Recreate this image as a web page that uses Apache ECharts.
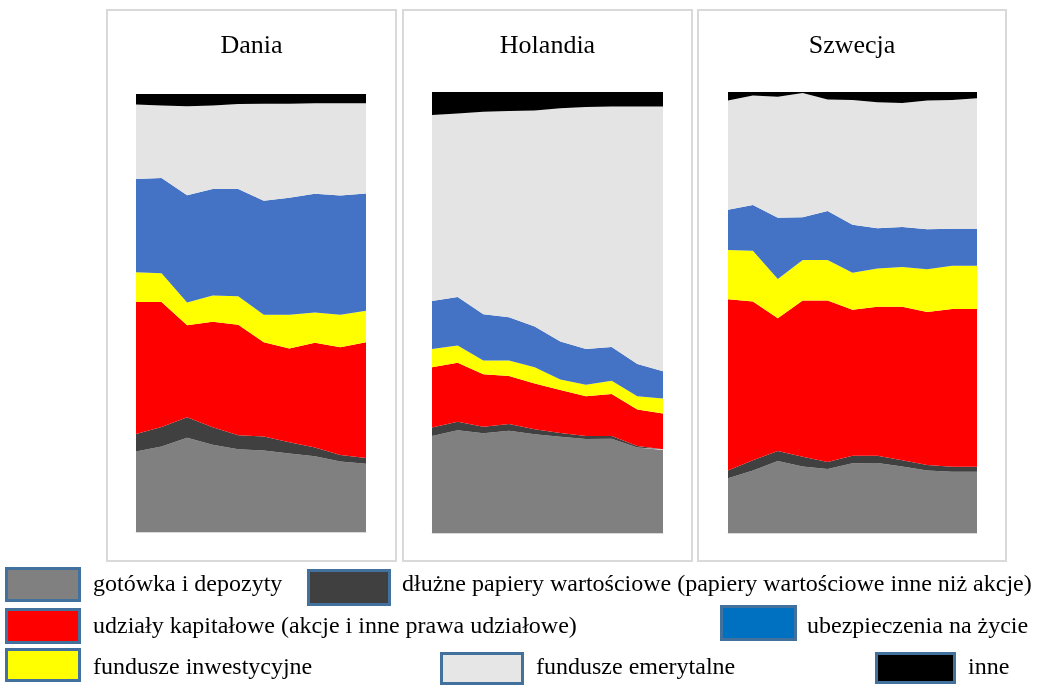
<!DOCTYPE html>
<html>
<head>
<meta charset="utf-8">
<script src="https://cdn.jsdelivr.net/npm/echarts@6/dist/echarts.min.js"></script>
<style>
  html, body { margin: 0; padding: 0; background: #ffffff; }
  #chart { width: 1038px; height: 685px; }
</style>
</head>
<body>
<div id="chart"></div>
<script>
// Struktura aktywów finansowych gospodarstw domowych (% ogółu)
const yearsDK = ['2004','2005','2006','2007','2008','2009','2010','2011','2012','2013'];
const yearsNL = ['2004','2005','2006','2007','2008','2009','2010','2011','2012','2013'];
const yearsSE = ['2003','2004','2005','2006','2007','2008','2009','2010','2011','2012','2013'];

const panelTitles = ['Dania', 'Holandia', 'Szwecja'];

const seriesNames = [
  'gotówka i depozyty',
  'dłużne papiery wartościowe (papiery wartościowe inne niż akcje)',
  'udziały kapitałowe (akcje i inne prawa udziałowe)',
  'fundusze inwestycyjne',
  'ubezpieczenia na życie',
  'fundusze emerytalne',
  'inne'
];

// Dania
const dkGotowka      = [18.4, 19.5, 21.5, 19.9, 18.9, 18.6, 17.9, 17.3, 16.1, 15.6];
const dkDluzne       = [ 4.0,  4.5,  4.7,  4.0,  3.2,  3.2,  2.6,  2.0,  1.5,  1.3];
const dkUdzialy      = [30.1, 28.5, 21.0, 24.1, 25.2, 21.5, 21.4, 23.9, 24.6, 26.4];
const dkInwestycyjne = [ 6.8,  6.6,  5.2,  6.0,  6.5,  6.3,  7.7,  6.9,  7.4,  7.2];
const dkUbezpieczenia= [21.3, 21.7, 24.5, 24.3, 24.5, 26.0, 26.7, 27.1, 27.2, 26.8];
const dkEmerytalne   = [17.0, 16.6, 20.3, 19.1, 19.4, 22.2, 21.5, 20.7, 21.1, 20.6];
const dkInne         = [ 2.4,  2.6,  2.8,  2.6,  2.3,  2.2,  2.2,  2.1,  2.1,  2.1];

// Holandia
const nlGotowka      = [22.0, 23.3, 22.6, 23.2, 22.4, 21.8, 21.3, 21.4, 19.4, 18.8];
const nlDluzne       = [ 1.9,  1.9,  1.5,  1.5,  1.1,  0.9,  0.7,  0.6,  0.3,  0.2];
const nlUdzialy      = [13.7, 13.4, 11.9, 10.9, 10.4,  9.7,  9.0,  9.5,  8.3,  8.1];
const nlInwestycyjne = [ 4.1,  3.9,  3.1,  3.5,  3.7,  2.4,  2.6,  3.0,  3.0,  3.4];
const nlUbezpieczenia= [10.9, 11.0, 10.5,  9.8,  9.2,  8.6,  8.1,  7.7,  7.3,  6.2];
const nlEmerytalne   = [42.2, 41.6, 45.9, 46.8, 49.0, 52.9, 54.9, 54.5, 58.4, 60.0];
const nlInne         = [ 5.2,  4.9,  4.5,  4.3,  4.2,  3.7,  3.4,  3.3,  3.3,  3.3];

// Szwecja
const seGotowka      = [12.4, 14.2, 16.3, 15.1, 14.5, 15.8, 15.9, 15.1, 14.2, 13.9, 13.9];
const seDluzne       = [ 1.8,  2.3,  2.3,  2.2,  1.6,  1.7,  1.6,  1.4,  1.2,  1.1,  1.1];
const seUdzialy      = [38.8, 36.0, 30.1, 35.4, 36.6, 33.1, 33.8, 34.8, 34.7, 35.8, 35.8];
const seInwestycyjne = [11.2, 11.5,  8.9,  9.2,  9.2,  8.4,  8.7,  9.0,  9.7,  9.8,  9.8];
const seUbezpieczenia= [ 9.1, 10.4, 13.9,  9.7, 11.1, 10.9,  9.1,  9.1,  9.1,  8.4,  8.4];
const seEmerytalne   = [24.8, 24.8, 27.4, 28.2, 25.3, 28.3, 28.6, 28.1, 29.2, 29.2, 29.6];
const seInne         = [ 1.9,  0.8,  1.1,  0.2,  1.7,  1.8,  2.3,  2.5,  1.9,  1.8,  1.4];

const areaColors = ['#808080', '#404040', '#ff0000', '#ffff00', '#4472c4', '#e4e4e4', '#000000'];
const swatchColors = ['#808080', '#404040', '#ff0000', '#ffff00', '#0070c0', '#e6e6e6', '#000000'];

const panels = [
  { years: yearsDK, data: [dkGotowka, dkDluzne, dkUdzialy, dkInwestycyjne, dkUbezpieczenia, dkEmerytalne, dkInne],
    grid: { left: 136, top: 94, width: 230, height: 438 }, box: [107, 10, 289, 551] },
  { years: yearsNL, data: [nlGotowka, nlDluzne, nlUdzialy, nlInwestycyjne, nlUbezpieczenia, nlEmerytalne, nlInne],
    grid: { left: 432, top: 92, width: 231, height: 441 }, box: [403, 10, 289, 551] },
  { years: yearsSE, data: [seGotowka, seDluzne, seUdzialy, seInwestycyjne, seUbezpieczenia, seEmerytalne, seInne],
    grid: { left: 728, top: 92, width: 249, height: 441 }, box: [698, 10, 308, 551] }
];

const FONT = '"Liberation Serif", "Times New Roman", "DejaVu Serif", serif';

const grids = [], xAxes = [], yAxes = [], series = [], graphics = [];

panels.forEach((p, i) => {
  // panel frame
  graphics.push({
    type: 'rect', z: 0, silent: true,
    shape: { x: p.box[0], y: p.box[1], width: p.box[2], height: p.box[3] },
    style: { fill: '#ffffff', stroke: '#d9d9d9', lineWidth: 2 }
  });
  // panel title
  graphics.push({
    type: 'text', z: 5, silent: true,
    x: p.box[0] + p.box[2] / 2, y: 46,
    style: { text: panelTitles[i], fill: '#000000', font: '26px ' + FONT,
             textAlign: 'center', textVerticalAlign: 'middle' }
  });

  grids.push(Object.assign({ containLabel: false }, p.grid));
  xAxes.push({
    type: 'category', gridIndex: i, data: p.years, boundaryGap: false,
    axisLabel: { show: false }, axisTick: { show: false },
    axisLine: { show: true, lineStyle: { color: '#d9d9d9', width: 1 } },
    splitLine: { show: false }
  });
  yAxes.push({
    type: 'value', gridIndex: i, min: 0, max: 100, interval: 20,
    axisLabel: { show: false }, axisTick: { show: false },
    axisLine: { show: false }, splitLine: { show: false }
  });
  p.data.forEach((values, k) => {
    series.push({
      name: seriesNames[k], type: 'line', xAxisIndex: i, yAxisIndex: i,
      stack: 'panel' + i, data: values, symbol: 'none', smooth: false,
      lineStyle: { width: 0 }, areaStyle: { color: areaColors[k], opacity: 1 },
      itemStyle: { color: areaColors[k] }, emphasis: { disabled: true },
      animation: false
    });
  });
});

// legend (arranged in three rows under the panels)
const legendItems = [
  { k: 0, rect: [5, 567, 76, 35],   tx: 93,  ty: 585 },
  { k: 1, rect: [307, 569, 84, 37], tx: 402, ty: 585 },
  { k: 2, rect: [5, 608, 76, 36],   tx: 93,  ty: 627 },
  { k: 4, rect: [720, 605, 77, 36], tx: 807, ty: 627 },
  { k: 3, rect: [5, 648, 76, 34],   tx: 93,  ty: 668 },
  { k: 5, rect: [440, 652, 84, 33], tx: 536, ty: 668 },
  { k: 6, rect: [875, 652, 81, 32], tx: 968, ty: 668 }
];
legendItems.forEach(it => {
  graphics.push({
    type: 'rect', z: 5, silent: true,
    shape: { x: it.rect[0] + 1.5, y: it.rect[1] + 1.5, width: it.rect[2] - 3, height: it.rect[3] - 3 },
    style: { fill: swatchColors[it.k], stroke: '#41719c', lineWidth: 3 }
  });
  graphics.push({
    type: 'text', z: 5, silent: true, x: it.tx, y: it.ty,
    style: { text: seriesNames[it.k], fill: '#000000', font: '24px ' + FONT,
             textAlign: 'left', textVerticalAlign: 'middle' }
  });
});

const chart = echarts.init(document.getElementById('chart'), null, { renderer: 'canvas' });
chart.setOption({
  backgroundColor: '#ffffff',
  animation: false,
  grid: grids,
  xAxis: xAxes,
  yAxis: yAxes,
  series: series,
  graphic: { elements: graphics }
});
</script>
</body>
</html>
